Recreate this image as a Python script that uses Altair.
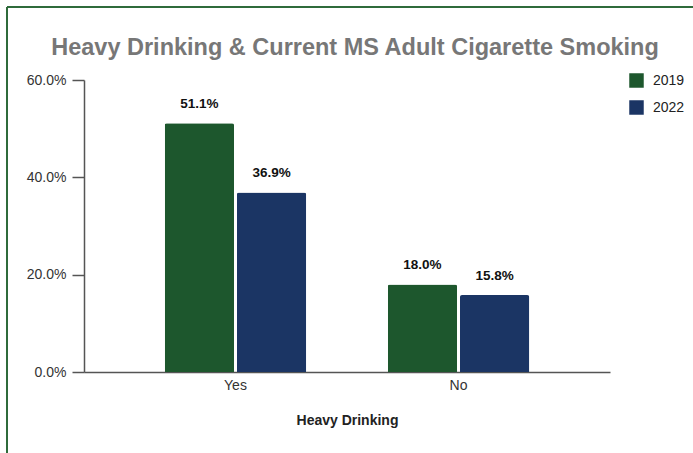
import altair as alt
import pandas as pd

# Share of adults who currently smoke cigarettes, by heavy-drinking status
categories = ["Yes", "No"]
years = ["2019", "2022"]
smoking_2019 = [51.1, 18.0]
smoking_2022 = [36.9, 15.8]
year_colors = ["#1d572d", "#1b3564"]

rows = []
for cat, v19, v22 in zip(categories, smoking_2019, smoking_2022):
    rows.append({"Heavy Drinking": cat, "Year": years[0], "Rate": v19 / 100})
    rows.append({"Heavy Drinking": cat, "Year": years[1], "Rate": v22 / 100})
df = pd.DataFrame(rows)

FONT = "Liberation Sans"

x_enc = alt.X(
    "Heavy Drinking:N",
    sort=categories,
    scale=alt.Scale(paddingInner=0.366, paddingOuter=0.362),
    axis=alt.Axis(
        title="Heavy Drinking",
        labelAngle=0,
        ticks=False,
        labelPadding=6,
        labelFontSize=14,
        labelColor="#333333",
        titleFontSize=14,
        titleFontWeight="bold",
        titleColor="#222222",
        titlePadding=21,
        domainColor="#555555",
        domainWidth=1.5,
    ),
)
y_enc = alt.Y(
    "Rate:Q",
    scale=alt.Scale(domain=[0, 0.6], nice=False),
    axis=alt.Axis(
        title=None,
        format=".1%",
        values=[0, 0.2, 0.4, 0.6],
        grid=False,
        tickSize=12,
        tickColor="#555555",
        tickWidth=1.5,
        labelPadding=6,
        labelFontSize=14,
        labelColor="#333333",
        domainColor="#555555",
        domainWidth=1.5,
    ),
)
xoff = alt.XOffset("Year:N", sort=years, scale=alt.Scale(paddingInner=0.04))
color = alt.Color(
    "Year:N",
    sort=years,
    scale=alt.Scale(domain=years, range=year_colors),
    legend=alt.Legend(
        title=None,
        orient="none",
        legendX=545,
        legendY=-7,
        symbolType="square",
        symbolSize=210,
        symbolStrokeWidth=0,
        labelFontSize=14,
        labelColor="#222222",
        labelOffset=9,
        rowPadding=12,
    ),
)

bars = alt.Chart(df).mark_bar(
    cornerRadiusTopLeft=2, cornerRadiusTopRight=2
).encode(x=x_enc, y=y_enc, xOffset=xoff, color=color)

labels = alt.Chart(df).mark_text(
    baseline="alphabetic", dy=-15, fontSize=13.5, fontWeight="bold", color="#111111"
).encode(
    x=x_enc,
    y=y_enc,
    xOffset=xoff,
    text=alt.Text("Rate:Q", format=".1%"),
)

# Frame lines along the top and left edges of the figure
top_edge = alt.Chart(df).mark_rule(color="#2f6b3b", strokeWidth=1.5).encode(
    x=alt.value(-77), x2=alt.value(620), y=alt.value(-73)
)
left_edge = alt.Chart(df).mark_rule(color="#2f6b3b", strokeWidth=1.5).encode(
    x=alt.value(-77), y=alt.value(-73), y2=alt.value(380)
)

chart = alt.layer(bars, labels, top_edge, left_edge).properties(
    width=526,
    height=292,
    title=alt.TitleParams(
        "Heavy Drinking & Current MS Adult Cigarette Smoking",
        fontSize=23.5,
        fontWeight="bold",
        color="#777777",
        anchor="middle",
        dx=8,
        offset=-53,
    ),
    autosize=alt.AutoSizeParams(type="none"),
    padding={"left": 84, "top": 80, "right": 83, "bottom": 81},
).configure(
    font=FONT,
    background="white",
).configure_view(
    stroke=None
)

chart.save("out.html", embed_options={"renderer": "svg", "actions": False})
